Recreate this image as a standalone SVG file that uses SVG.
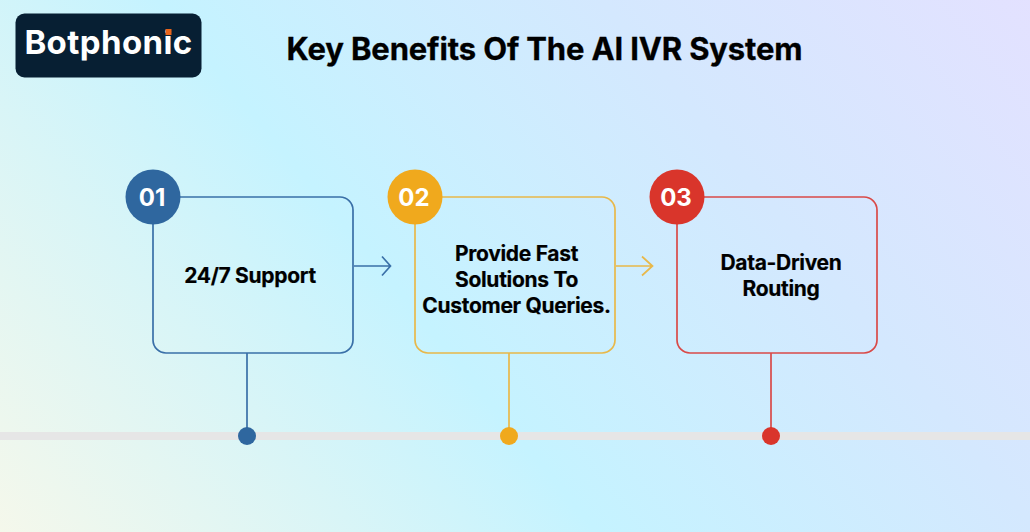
<svg xmlns="http://www.w3.org/2000/svg" width="1030" height="532" viewBox="0 0 1030 532">
<style>
text{font-family:Inter,"Liberation Sans",sans-serif;text-anchor:middle}
.t{font-size:21px;font-weight:700;fill:#000;letter-spacing:-.3px;stroke:#000;stroke-width:.2px}
.n{font-size:24px;font-weight:700;fill:#fff}
.box{fill:none;stroke-width:1.7}
.blue{stroke:#3a70a8}.yel{stroke:#e8b84a}.red{stroke:#d94a48}
.line{fill:none;stroke-width:1.7}
</style>
<defs>
<linearGradient id="bg" gradientUnits="userSpaceOnUse" x1="60" y1="640" x2="970" y2="-108">
<stop offset="0" stop-color="#f7f8ea"/>
<stop offset=".41" stop-color="#c5f3ff"/>
<stop offset=".7" stop-color="#d4e8fe"/>
<stop offset="1" stop-color="#e4e1ff"/>
</linearGradient>
</defs>
<rect id="background" width="1030" height="532" fill="url(#bg)"/>
<rect id="track" x="0" y="432" width="1030" height="8" fill="#e6e6e6"/>
<g id="logo">
<rect x="15.500" y="13.500" width="186" height="64" rx="9" fill="#071f33"/>
<text x="108.500" y="53.500" style="font-size:33px;font-weight:700;fill:#fff;letter-spacing:.4px">Botphonic</text>
<rect x="165.500" y="29" width="6" height="6" fill="#e8641b"/>
</g>
<text id="title" x="544.500" y="60" style="font-size:31px;font-weight:700;fill:#000;letter-spacing:-.15px;stroke:#000;stroke-width:.3px">Key Benefits Of The AI IVR System</text>
<g id="connectors">
<path class="line blue" d="M247 353V432M354 266H390M382 256.500L390.500 266L382 275.500"/>
<path class="line yel" d="M509 353V432M616 266H652M642 256.500L652.500 266L642 275.500"/>
<path class="line red" d="M771 353V432"/>
</g>
<g id="node1">
<rect class="box blue" x="153" y="197" width="200" height="156" rx="13"/>
<circle cx="153" cy="197" r="27.500" fill="#2f679f"/>
<text class="n" x="152" y="206">01</text>
<text class="t" x="250" y="283.200">24/7 Support</text>
<circle cx="247" cy="436" r="9" fill="#2f679f"/>
</g>
<g id="node2">
<rect class="box yel" x="415" y="197" width="200" height="156" rx="13"/>
<circle cx="415" cy="197" r="27.500" fill="#f0a91d"/>
<text class="n" x="414" y="206">02</text>
<text class="t" x="516.500" y="261.200">Provide Fast</text>
<text class="t" x="516.500" y="287.200">Solutions To</text>
<text class="t" x="516.500" y="313.200">Customer Queries.</text>
<circle cx="509" cy="436" r="9" fill="#f0a91d"/>
</g>
<g id="node3">
<rect class="box red" x="677" y="197" width="200" height="156" rx="13"/>
<circle cx="677" cy="197" r="27.500" fill="#d9352b"/>
<text class="n" x="676" y="206">03</text>
<text class="t" x="781" y="270.200">Data-Driven</text>
<text class="t" x="781" y="296.200">Routing</text>
<circle cx="771" cy="436" r="9" fill="#d9352b"/>
</g>
</svg>
